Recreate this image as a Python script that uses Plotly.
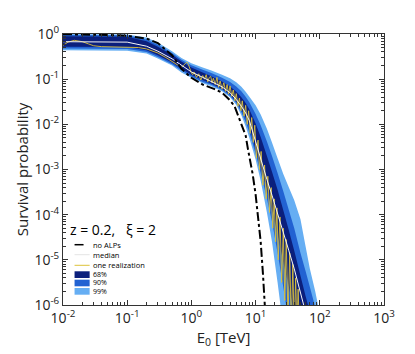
import plotly.graph_objects as go

# Energy grid (TeV) for the bands and the median
energy = [0.01, 0.1, 0.2, 0.3, 0.5, 0.7, 1, 1.5, 2, 3, 4, 5, 6, 7, 8, 10, 12, 15,
          18, 22, 27, 33, 40, 50, 60, 70, 85, 100, 120]

# log10 of survival probability
median_log = [-0.17, -0.18, -0.27, -0.38, -0.55, -0.70, -0.84, -0.96, -1.04, -1.17,
              -1.30, -1.45, -1.60, -1.75, -1.92, -2.40, -2.78, -3.22, -3.57, -3.96,
              -4.38, -4.80, -5.20, -5.68, -6.07, -6.40, -6.85, -7.30, -7.80]
c68_lo = [-0.28, -0.29, -0.36, -0.47, -0.63, -0.77, -0.90, -1.02, -1.09, -1.21,
          -1.34, -1.50, -1.67, -1.85, -2.05, -2.55, -2.95, -3.45, -3.90, -4.45,
          -5.05, -5.60, -6.20, -6.90, -7.40, -7.80, -8.30, -8.80, -9.30]
c68_hi = [-0.05, -0.06, -0.16, -0.28, -0.46, -0.61, -0.74, -0.85, -0.93, -1.05,
          -1.16, -1.28, -1.40, -1.53, -1.67, -1.98, -2.28, -2.70, -3.05, -3.45,
          -3.90, -4.35, -4.80, -5.35, -5.80, -6.15, -6.60, -7.05, -7.50]
c90_lo = [-0.32, -0.33, -0.40, -0.51, -0.67, -0.81, -0.94, -1.06, -1.12, -1.24,
          -1.37, -1.53, -1.73, -1.95, -2.18, -2.65, -3.08, -3.65, -4.15, -4.85,
          -5.60, -6.40, -7.20, -8.00, -8.60, -9.00, -9.50, -10.0, -10.0]
c90_hi = [-0.02, -0.03, -0.12, -0.24, -0.42, -0.57, -0.69, -0.79, -0.86, -0.97,
          -1.06, -1.16, -1.27, -1.39, -1.51, -1.77, -2.02, -2.38, -2.70, -3.08,
          -3.48, -3.90, -4.30, -4.85, -5.25, -5.60, -6.05, -6.50, -7.00]
c99_lo = [-0.36, -0.37, -0.43, -0.54, -0.70, -0.85, -0.97, -1.09, -1.15, -1.27,
          -1.40, -1.57, -1.80, -2.05, -2.30, -2.78, -3.25, -3.95, -4.60, -5.50,
          -6.50, -7.50, -8.30, -9.00, -9.50, -10.0, -10.0, -10.0, -10.0]
c99_hi = [0.0, -0.01, -0.08, -0.19, -0.38, -0.53, -0.65, -0.74, -0.80, -0.90,
          -0.98, -1.07, -1.17, -1.28, -1.39, -1.58, -1.78, -2.10, -2.40, -2.75,
          -3.10, -3.40, -3.68, -4.10, -4.70, -5.20, -5.70, -6.20, -6.80]

noalp_energy = [0.01, 0.02, 0.05, 0.1, 0.2, 0.3, 0.5, 0.7, 1, 1.5, 2, 2.3, 3, 4,
                4.7, 5.3, 6, 7, 7.6, 8, 9, 10, 10.9, 12, 13, 14, 15]
noalp_log = [-0.005, -0.01, -0.02, -0.04, -0.10, -0.20, -0.47, -0.77, -0.97, -1.12,
             -1.18, -1.22, -1.30, -1.47, -1.60, -1.80, -2.00, -2.25, -2.55, -2.70,
             -3.10, -3.55, -4.00, -4.60, -5.30, -6.00, -6.80]

# one random realization of the B-field
real_energy = [0.01, 0.012, 0.015, 0.02, 0.025, 0.03, 0.04, 0.06, 0.1, 0.15, 0.2, 0.3,
               0.4, 0.5, 0.6, 0.7, 0.75, 0.8, 0.85, 0.9, 0.95, 1.0, 1.05, 1.1, 1.2,
               1.3, 1.4, 1.5, 1.6, 1.7, 1.8, 1.9, 2.0, 2.1, 2.2, 2.35, 2.5, 2.65,
               2.8, 3.0, 3.2, 3.4, 3.6, 3.8, 4.0, 4.25, 4.5, 4.75, 5.0, 5.3, 5.6,
               5.9, 6.2, 6.6, 7.0, 7.4, 7.8, 8.2, 8.7, 9.2, 9.7, 10.3, 10.9, 11.5,
               12.2, 13.0, 13.8, 14.6, 15.5, 16.5, 17.5, 18.5, 19.5, 20.5, 21.5,
               22.5, 24, 25.5, 27, 28.5, 30, 32, 34, 36, 38, 40, 42, 44, 46, 48]
real_log = [-0.25, -0.18, -0.14, -0.17, -0.22, -0.26, -0.28, -0.29, -0.29, -0.30,
            -0.33, -0.42, -0.52, -0.60, -0.68, -0.74, -0.70, -0.64, -0.62, -0.68,
            -0.78, -0.86, -0.90, -0.84, -0.96, -0.88, -1.02, -0.92, -1.00, -0.90,
            -1.06, -0.96, -0.94, -1.08, -0.98, -1.12, -0.96, -1.18, -1.04, -1.22,
            -1.08, -1.27, -1.12, -1.33, -1.15, -1.38, -1.24, -1.48, -1.32, -1.60,
            -1.42, -1.70, -1.48, -1.82, -1.58, -2.00, -1.70, -2.20, -1.85, -2.40,
            -2.02, -2.75, -2.35, -3.00, -2.60, -3.35, -2.90, -3.65, -3.15, -3.95,
            -3.40, -4.30, -3.65, -4.60, -3.85, -5.00, -4.05, -5.50, -4.30, -5.90,
            -4.55, -6.30, -4.85, -6.50, -5.10, -6.60, -5.40, -6.50, -5.65, -6.50]

tick_vals = [1e-6, 1e-5, 1e-4, 1e-3, 1e-2, 1e-1, 1]
tick_text = ["10<sup>-6</sup>", "10<sup>-5</sup>", "10<sup>-4</sup>", "10<sup>-3</sup>",
             "10<sup>-2</sup>", "10<sup>-1</sup>", "10<sup>0</sup>"]
xtick_vals = [1e-2, 1e-1, 1, 10, 100, 1000]
xtick_text = ["10<sup>-2</sup>", "10<sup>-1</sup>", "10<sup>0</sup>", "10<sup>1</sup>",
              "10<sup>2</sup>", "10<sup>3</sup>"]

C68, C90, C99 = "#0b1f7c", "#2262d2", "#66aef3"
YELLOW = "#dcc23a"


def band(lo, hi, color, name):
    xs = energy + energy[::-1]
    ys = [10 ** v for v in hi] + [10 ** v for v in lo[::-1]]
    return go.Scatter(x=xs, y=ys, fill="toself", fillcolor=color, mode="none",
                      name=name, hoverinfo="skip")


fig = go.Figure()
fig.add_trace(band(c99_lo, c99_hi, C99, "99%"))
fig.add_trace(band(c90_lo, c90_hi, C90, "90%"))
fig.add_trace(band(c68_lo, c68_hi, C68, "68%"))
fig.add_trace(go.Scatter(x=real_energy, y=[10 ** v for v in real_log], mode="lines",
                         line=dict(color=YELLOW, width=0.9), name="one realization"))
fig.add_trace(go.Scatter(x=energy, y=[10 ** v for v in median_log], mode="lines",
                         line=dict(color="#f6f6f6", width=1), name="median"))
fig.add_trace(go.Scatter(x=noalp_energy, y=[10 ** v for v in noalp_log], mode="lines",
                         line=dict(color="black", width=2, dash="dashdot"),
                         name="no ALPs"))

minor_x = [m * 10 ** d for d in range(-2, 3) for m in range(2, 10)]
minor_y = [m * 10 ** d for d in range(-6, 0) for m in range(2, 10)]

axis_common = dict(type="log", showgrid=False, zeroline=False, showline=True,
                   linecolor="#333", linewidth=1, mirror="allticks", ticks="inside",
                   ticklen=5, tickcolor="#333",
                   tickfont=dict(size=14, color="#222"))

fig.update_xaxes(**axis_common, range=[-2, 3], tickvals=xtick_vals, ticktext=xtick_text,
                 minor=dict(tickvals=minor_x, ticks="inside", ticklen=3, tickcolor="#333"),
                 title=dict(text="E<sub>0</sub> [TeV]", font=dict(size=15), standoff=6))
fig.update_yaxes(**axis_common, range=[-6, 0], tickvals=tick_vals, ticktext=tick_text,
                 minor=dict(tickvals=minor_y, ticks="inside", ticklen=3, tickcolor="#333"),
                 title=dict(text="Survival probability", font=dict(size=15), standoff=2))

# hand-built compact legend (plotly's own legend rows are too tall)
fig.add_annotation(x=0.016, y=0.277, xref="paper", yref="paper", xanchor="left",
                   yanchor="middle", showarrow=False, text="z = 0.2,   ξ = 2",
                   font=dict(size=14, color="black"))

line_items = [("no ALPs", 0.2225, dict(color="black", width=1.5, dash="dash")),
              ("median", 0.1856, dict(color="#e4e4e4", width=1)),
              ("one realization", 0.1465, dict(color=YELLOW, width=1))]
for label, yy, ln in line_items:
    fig.add_shape(type="line", xref="paper", yref="paper", x0=0.036, x1=0.083,
                  y0=yy, y1=yy, line=ln)
    fig.add_annotation(x=0.087, y=yy, xref="paper", yref="paper", xanchor="left",
                       yanchor="middle", showarrow=False, text=label,
                       font=dict(size=7.5, color="black"))

box_items = [("68%", 0.0996, 0.1244, C68), ("90%", 0.069, 0.0934, C90),
             ("99%", 0.038, 0.0627, C99)]
for label, y0, y1, col in box_items:
    fig.add_shape(type="rect", xref="paper", yref="paper", x0=0.036, x1=0.083,
                  y0=y0, y1=y1, fillcolor=col, line=dict(width=0))
    fig.add_annotation(x=0.087, y=(y0 + y1) / 2, xref="paper", yref="paper",
                       xanchor="left", yanchor="middle", showarrow=False, text=label,
                       font=dict(size=7, color="black"))

fig.update_layout(
    width=415, height=354,
    margin=dict(l=55, r=39, t=26, b=57),
    plot_bgcolor="white", paper_bgcolor="white",
    font=dict(family="Open Sans, sans-serif", color="#222"),
    showlegend=False,
)

fig.write_html("out.html")
